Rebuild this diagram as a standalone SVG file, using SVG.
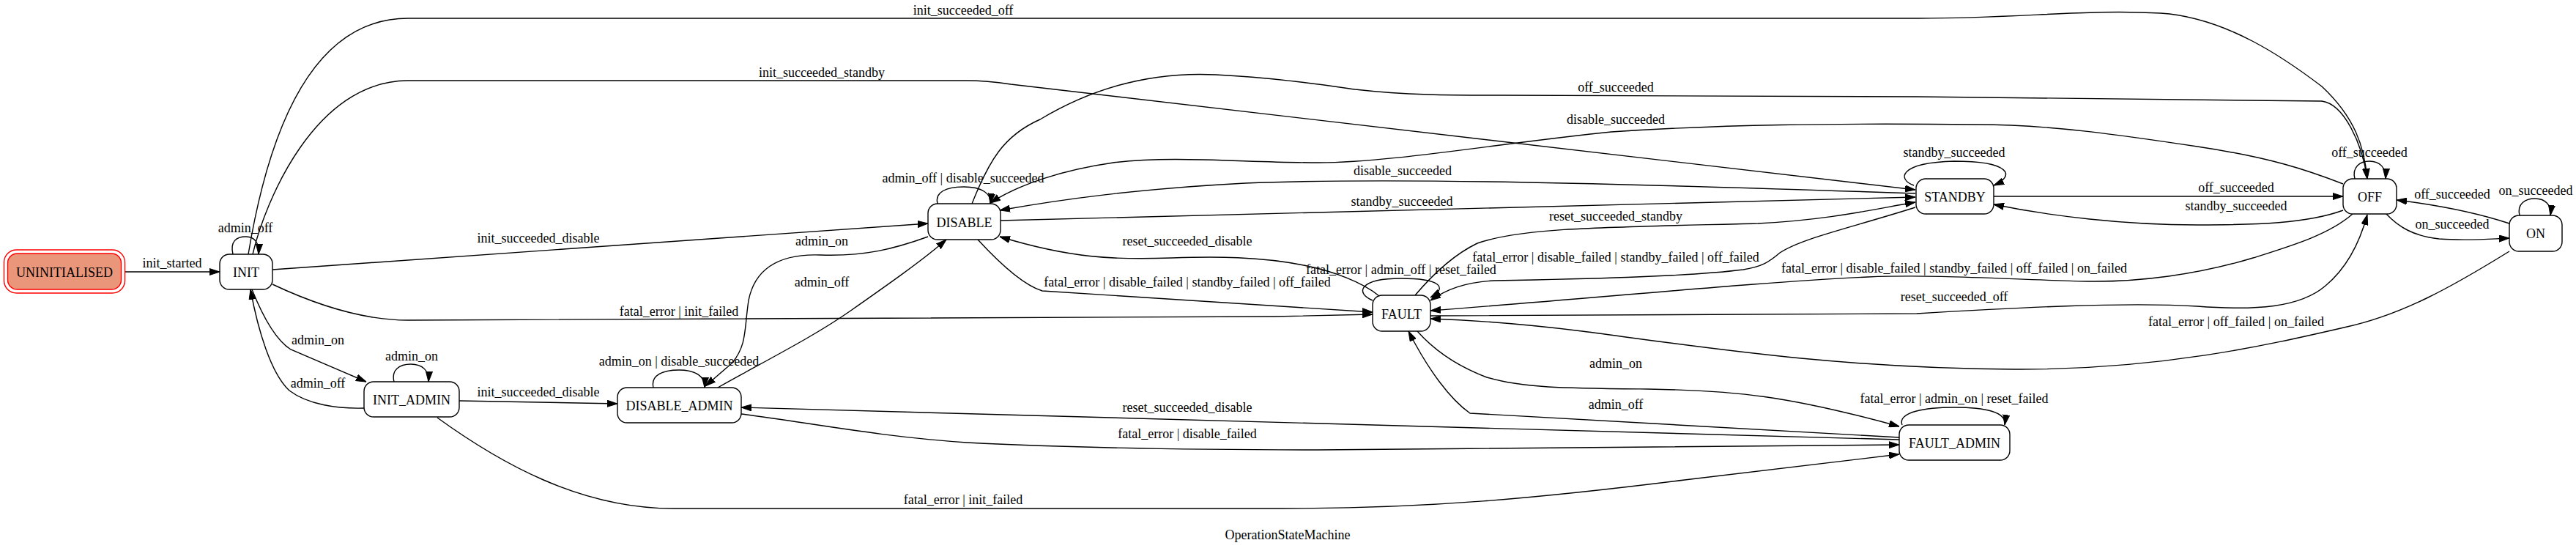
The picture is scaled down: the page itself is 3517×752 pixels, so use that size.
<svg xmlns="http://www.w3.org/2000/svg" width="3517" height="752" viewBox="0 0 3517 752">
<style>
text { font-family: "Liberation Serif", "Times New Roman", serif; font-size: 18px; text-anchor: middle; fill: #000; }
.node rect { fill: #fff; stroke: #000; stroke-width: 1.4; }
.edges path { fill: none; stroke: #000; stroke-width: 1.4; marker-end: url(#arr); }
</style>
<defs>
<marker id="arr" markerWidth="14" markerHeight="10" refX="14" refY="5" orient="auto" markerUnits="userSpaceOnUse">
<path d="M0,0.5 L14,5 L0,9.5 Z" fill="#000" stroke="#000" stroke-width="1"/>
</marker>
</defs>
<rect x="0" y="0" width="3517" height="752" fill="#fff"/>

<g id="edges" class="edges">
<path d="M170.5,371 L300,371"/>
<text x="235" y="365">init_started</text>
<path d="M318,347 C314,330 322,323 336,323 C348,323 354,332 353,347"/>
<text x="335" y="317">admin_off</text>
<path d="M339,347 C355,250 400,25 557,25 L2620,25 C2760,25 2850,12 2950,18 C3040,24 3120,80 3170,118 C3215,160 3228,200 3232,244"/>
<text x="1315" y="20">init_succeeded_off</text>
<path d="M345,347 C362,275 430,110 557,110 L1320,110 C1345,110 1360,112 1380,115 L2615,259"/>
<text x="1122" y="105">init_succeeded_standby</text>
<path d="M372,368 L1267,305"/>
<text x="735" y="331">init_succeeded_disable</text>
<path d="M372,388 C440,420 500,437 557,437 L1740,432 L1874,429"/>
<text x="927" y="431">fatal_error | init_failed</text>
<path d="M344,395 C360,435 378,465 397,477 L500,521"/>
<text x="434" y="470">admin_on</text>
<path d="M497,557 C460,558 420,552 395,533 C370,510 352,450 342,395"/>
<text x="434" y="529">admin_off</text>
<path d="M538,521 C534,505 545,497 561,497 C577,497 586,506 585,521"/>
<text x="562" y="492">admin_on</text>
<path d="M627,547 L843,551"/>
<text x="735" y="541">init_succeeded_disable</text>
<path d="M597,570 C680,630 790,694 920,694 L1750,694 C1950,694 2100,680 2300,655 L2593,620"/>
<text x="1315" y="688">fatal_error | init_failed</text>
<path d="M892,529 C888,512 905,505 927,505 C950,505 963,514 962,529"/>
<text x="927" y="499">admin_on | disable_succeeded</text>
<path d="M1267,323 C1220,340 1180,350 1120,348 C1060,346 1030,370 1022,410 C1016,450 1020,470 1000,495 L963,527"/>
<text x="1122" y="335">admin_on</text>
<path d="M980,529 C1040,495 1110,460 1160,425 C1210,390 1260,355 1292,327"/>
<text x="1122" y="391">admin_off</text>
<path d="M1280,278 C1276,262 1292,255 1316,255 C1340,255 1354,264 1352,278"/>
<text x="1315" y="249">admin_off | disable_succeeded</text>
<path d="M1327,278 C1350,220 1370,185 1420,163 C1500,115 1580,98 1660,102 C1740,106 1800,115 1850,122 C1920,130 1980,130 2050,130 L2617,132 L3170,138 C3200,142 3225,195 3232,244"/>
<text x="2206" y="125">off_succeeded</text>
<path d="M3199,251 C3150,232 3100,215 3000,200 C2900,185 2800,170 2700,170 C2500,168 2350,170 2200,180 C2050,195 1900,222 1800,222 C1700,222 1600,212 1520,222 C1450,232 1390,252 1352,277"/>
<text x="2206" y="169">disable_succeeded</text>
<path d="M2615,264 C2200,250 1900,242 1700,250 C1550,258 1450,272 1365,287"/>
<text x="1915" y="239">disable_succeeded</text>
<path d="M1366,301 L2615,269"/>
<text x="1914" y="281">standby_succeeded</text>
<path d="M1883,404 C1860,385 1820,370 1780,362 C1720,350 1660,350 1600,352 C1520,355 1460,352 1365,323"/>
<text x="1621" y="335">reset_succeeded_disable</text>
<path d="M1335,327 C1370,365 1400,390 1423,397 L1874,426"/>
<text x="1621" y="391">fatal_error | disable_failed | standby_failed | off_failed</text>
<path d="M1874,410 C1850,400 1855,380 1913,380 C1965,380 1978,392 1953,406"/>
<text x="1913" y="374">fatal_error | admin_off | reset_failed</text>
<path d="M1932,403 C1960,370 1990,345 2017,332 C2080,310 2200,310 2400,305 C2500,300 2560,285 2615,276"/>
<text x="2206" y="301">reset_succeeded_standby</text>
<path d="M2615,283 C2530,310 2460,325 2430,345 C2415,358 2405,364 2380,368 C2300,378 2150,381 2040,383 C2000,385 1975,395 1953,410"/>
<text x="2206" y="357">fatal_error | disable_failed | standby_failed | off_failed</text>
<path d="M3212,292 C3180,320 3130,335 3076,352 C3000,375 2920,385 2850,384 C2750,382 2650,374 2550,378 C2400,385 2200,405 1953,424"/>
<text x="2668" y="372">fatal_error | disable_failed | standby_failed | off_failed | on_failed</text>
<path d="M1953,431 L2617,428 C2750,420 2900,412 3000,418 C3080,424 3140,420 3175,390 C3205,365 3222,330 3232,293"/>
<text x="2668" y="411">reset_succeeded_off</text>
<path d="M3426,343 C3350,390 3280,430 3200,447 C3100,470 2950,505 2750,504 C2500,503 2300,470 2160,452 C2080,442 2010,437 1953,435"/>
<text x="3053" y="445">fatal_error | off_failed | on_failed</text>
<path d="M1935,452 C1960,480 1990,500 2030,515 C2080,530 2140,530 2250,531 C2370,533 2440,540 2593,582"/>
<text x="2206" y="502">admin_on</text>
<path d="M2593,597 L2007,564 C1980,545 1950,505 1923,452"/>
<text x="2206" y="558">admin_off</text>
<path d="M2597,580 C2590,562 2630,556 2668,556 C2710,556 2740,562 2737,580"/>
<text x="2668" y="550">fatal_error | admin_on | reset_failed</text>
<path d="M2593,600 L1012,556"/>
<text x="1621" y="562">reset_succeeded_disable</text>
<path d="M1012,565 C1100,576 1200,596 1320,604 C1500,613 1700,614 1800,614 L2593,607"/>
<text x="1621" y="598">fatal_error | disable_failed</text>
<path d="M2613,253 C2590,245 2592,222 2668,220 C2745,220 2752,240 2722,253"/>
<text x="2668" y="214">standby_succeeded</text>
<path d="M2722,268 L3199,268"/>
<text x="3053" y="262">off_succeeded</text>
<path d="M3199,287 C3150,305 3080,307 3000,307 C2900,307 2800,295 2722,279"/>
<text x="3053" y="287">standby_succeeded</text>
<path d="M3215,244 C3211,228 3222,220 3235,220 C3249,220 3258,229 3257,244"/>
<text x="3235" y="214">off_succeeded</text>
<path d="M3426,305 C3380,290 3330,280 3272,273"/>
<text x="3348" y="271">off_succeeded</text>
<path d="M3258,292 C3275,310 3295,322 3330,326 C3370,329 3400,326 3426,325"/>
<text x="3348" y="312">on_succeeded</text>
<path d="M3440,294 C3436,278 3448,271 3461,271 C3475,271 3484,280 3482,294"/>
<text x="3462" y="266">on_succeeded</text>
</g>

<g id="UNINITIALISED" class="node">
<rect x="5.5" y="341" width="165" height="59" rx="17" ry="17" style="fill:#fff;stroke:#ff0000"/>
<rect x="10.5" y="346" width="155" height="49" rx="13" ry="13" style="fill:#e9967a;stroke:#ff0000"/>
<text x="88" y="377.5">UNINITIALISED</text>
</g>
<g id="INIT" class="node"><rect x="300" y="347" width="72" height="48" rx="13"/><text x="336" y="377.5">INIT</text></g>
<g id="INIT_ADMIN" class="node"><rect x="497" y="521" width="130" height="48" rx="13"/><text x="562" y="551.5">INIT_ADMIN</text></g>
<g id="DISABLE_ADMIN" class="node"><rect x="843" y="529" width="169" height="48" rx="13"/><text x="927.5" y="559.5">DISABLE_ADMIN</text></g>
<g id="DISABLE" class="node"><rect x="1267" y="278" width="99" height="49" rx="13"/><text x="1316.5" y="309.5">DISABLE</text></g>
<g id="FAULT" class="node"><rect x="1874" y="403" width="79" height="49" rx="13"/><text x="1913.5" y="434.5">FAULT</text></g>
<g id="STANDBY" class="node"><rect x="2616" y="244" width="106" height="48" rx="13"/><text x="2669" y="274.5">STANDBY</text></g>
<g id="FAULT_ADMIN" class="node"><rect x="2593" y="580" width="151" height="48" rx="13"/><text x="2668.5" y="610.5">FAULT_ADMIN</text></g>
<g id="OFF" class="node"><rect x="3199" y="244" width="73" height="48" rx="13"/><text x="3235.5" y="274.5">OFF</text></g>
<g id="ON" class="node"><rect x="3426" y="294" width="72" height="49" rx="13"/><text x="3462" y="325">ON</text></g>

<g id="graph-label"><text x="1758" y="736">OperationStateMachine</text></g>
</svg>
